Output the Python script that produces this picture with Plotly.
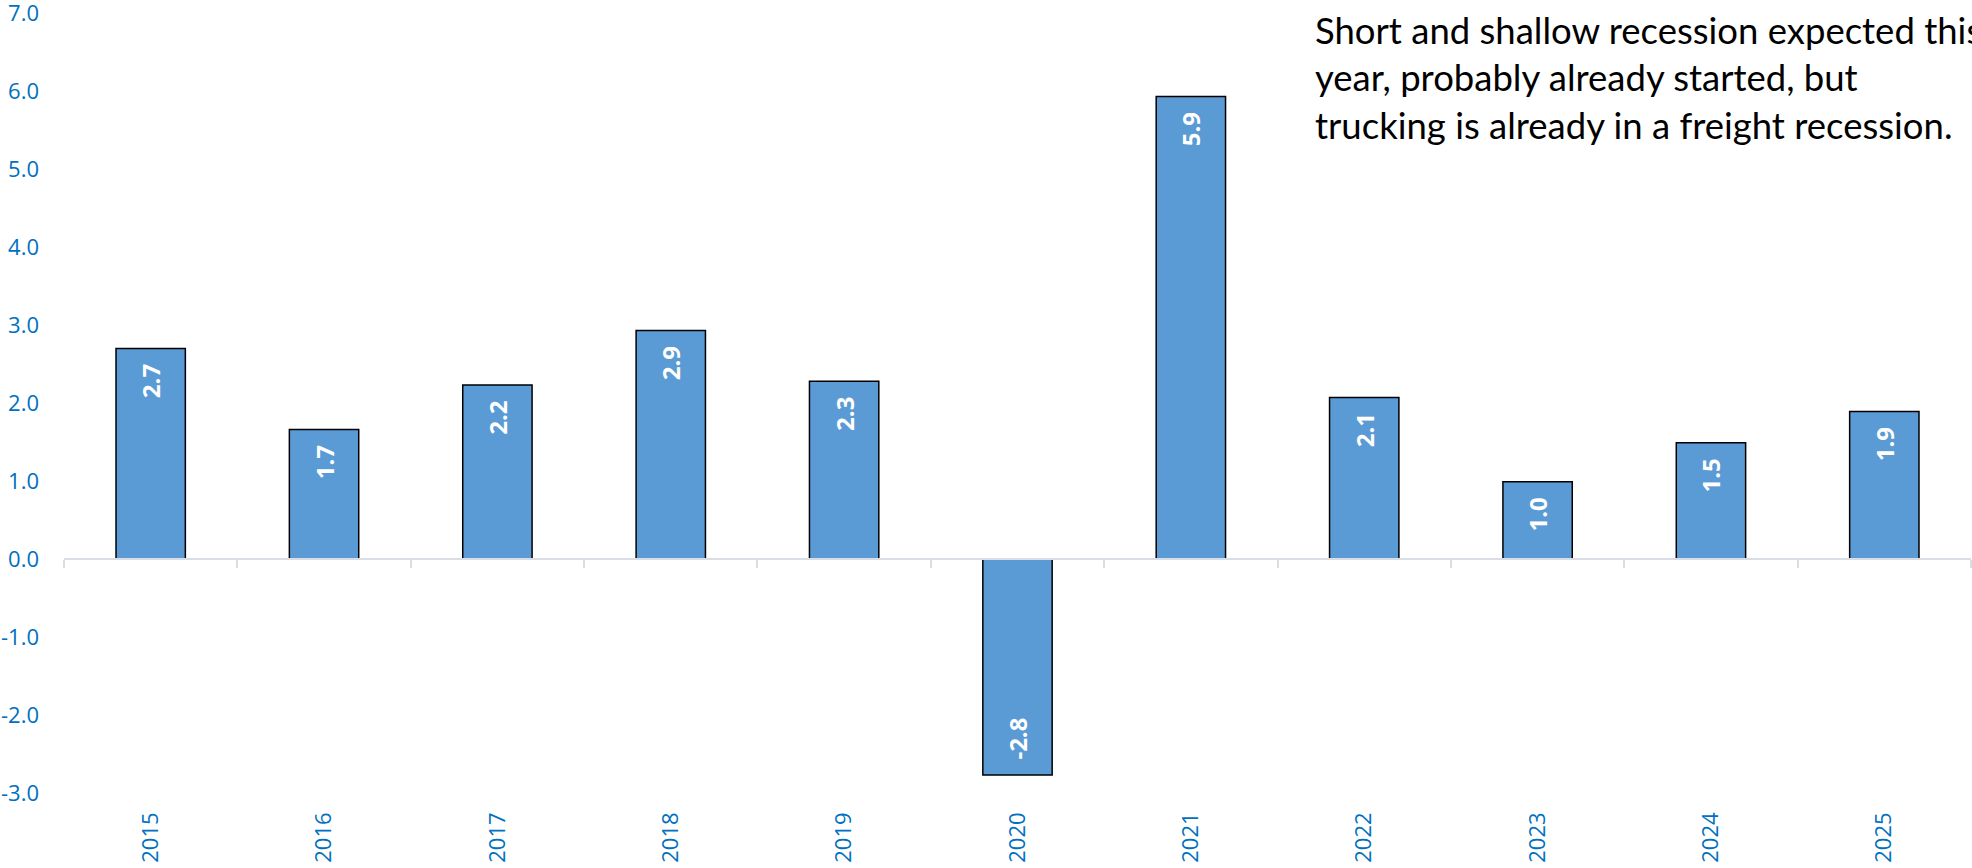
import plotly.graph_objects as go

years = ['2015', '2016', '2017', '2018', '2019', '2020', '2021', '2022', '2023', '2024', '2025']
values = [2.70, 1.66, 2.23, 2.93, 2.28, -2.77, 5.93, 2.07, 0.99, 1.49, 1.89]
y_tick_values = [-3, -2, -1, 0, 1, 2, 3, 4, 5, 6, 7]
y_tick_labels = ['-3.0', '-2.0', '-1.0', '0.0', '1.0', '2.0', '3.0', '4.0', '5.0', '6.0', '7.0']
note = ("Short and shallow recession expected this<br>"
        "year, probably already started, but<br>"
        "trucking is already in a freight recession.")

BLUE_TEXT = '#0070C0'
NB = '\u00a0'
x_range = [-0.5, len(years) - 0.5]

fig = go.Figure()
fig.add_trace(go.Bar(
    x=years, y=values,
    marker=dict(color='#5B9BD5', line=dict(color='#000000', width=1.5)),
    texttemplate=NB * 2 + '%{y:.1f}' + NB * 2, textposition='inside', insidetextanchor='end',
    textangle=-90,
    textfont=dict(family='Open Sans', size=24, color='white', weight='bold'),
    hoverinfo='skip', cliponaxis=False,
))
# invisible helper trace so the zero-line axis knows the categories
fig.add_trace(go.Scatter(
    x=years, y=[0] * len(years), xaxis='x2', mode='lines',
    line=dict(width=0), opacity=0, hoverinfo='skip', showlegend=False,
))

fig.update_layout(
    width=1972, height=868,
    margin=dict(l=64, r=1, t=13, b=75, autoexpand=False),
    paper_bgcolor='white', plot_bgcolor='white',
    showlegend=False,
    bargap=0.6,
    xaxis=dict(
        type='category', range=x_range, showline=False, showgrid=False, zeroline=False,
        tickangle=-90, ticks='', ticklabelstandoff=14, automargin=False,
        tickfont=dict(family='Open Sans', size=22, color=BLUE_TEXT),
    ),
    xaxis2=dict(
        type='category', range=x_range, overlaying='x', anchor='free', position=0.3,
        showline=True, linecolor='#D9DEE6', linewidth=1.5, automargin=False,
        ticks='outside', tickson='boundaries', ticklen=8, tickcolor='#D9DEE6', tickwidth=1.5,
        showticklabels=False, showgrid=False, zeroline=False,
    ),
    yaxis=dict(
        range=[-3, 7], tickvals=y_tick_values, ticktext=y_tick_labels,
        showgrid=False, zeroline=False, showline=False, ticks='',
        ticklabelstandoff=24, automargin=False, ticklabeloverflow='allow',
        tickfont=dict(family='Open Sans', size=22, color=BLUE_TEXT),
    ),
    annotations=[dict(
        text=note, xref='paper', yref='paper', x=0.655, y=1.0, yshift=7,
        xanchor='left', yanchor='top', align='left', showarrow=False,
        font=dict(family='Lato', size=36.5, color='black'),
    )],
)

fig.write_html(
    'out.html',
    config={'displayModeBar': False},
    post_script="document.body.style.margin='0';document.body.style.overflow='hidden';",
)
